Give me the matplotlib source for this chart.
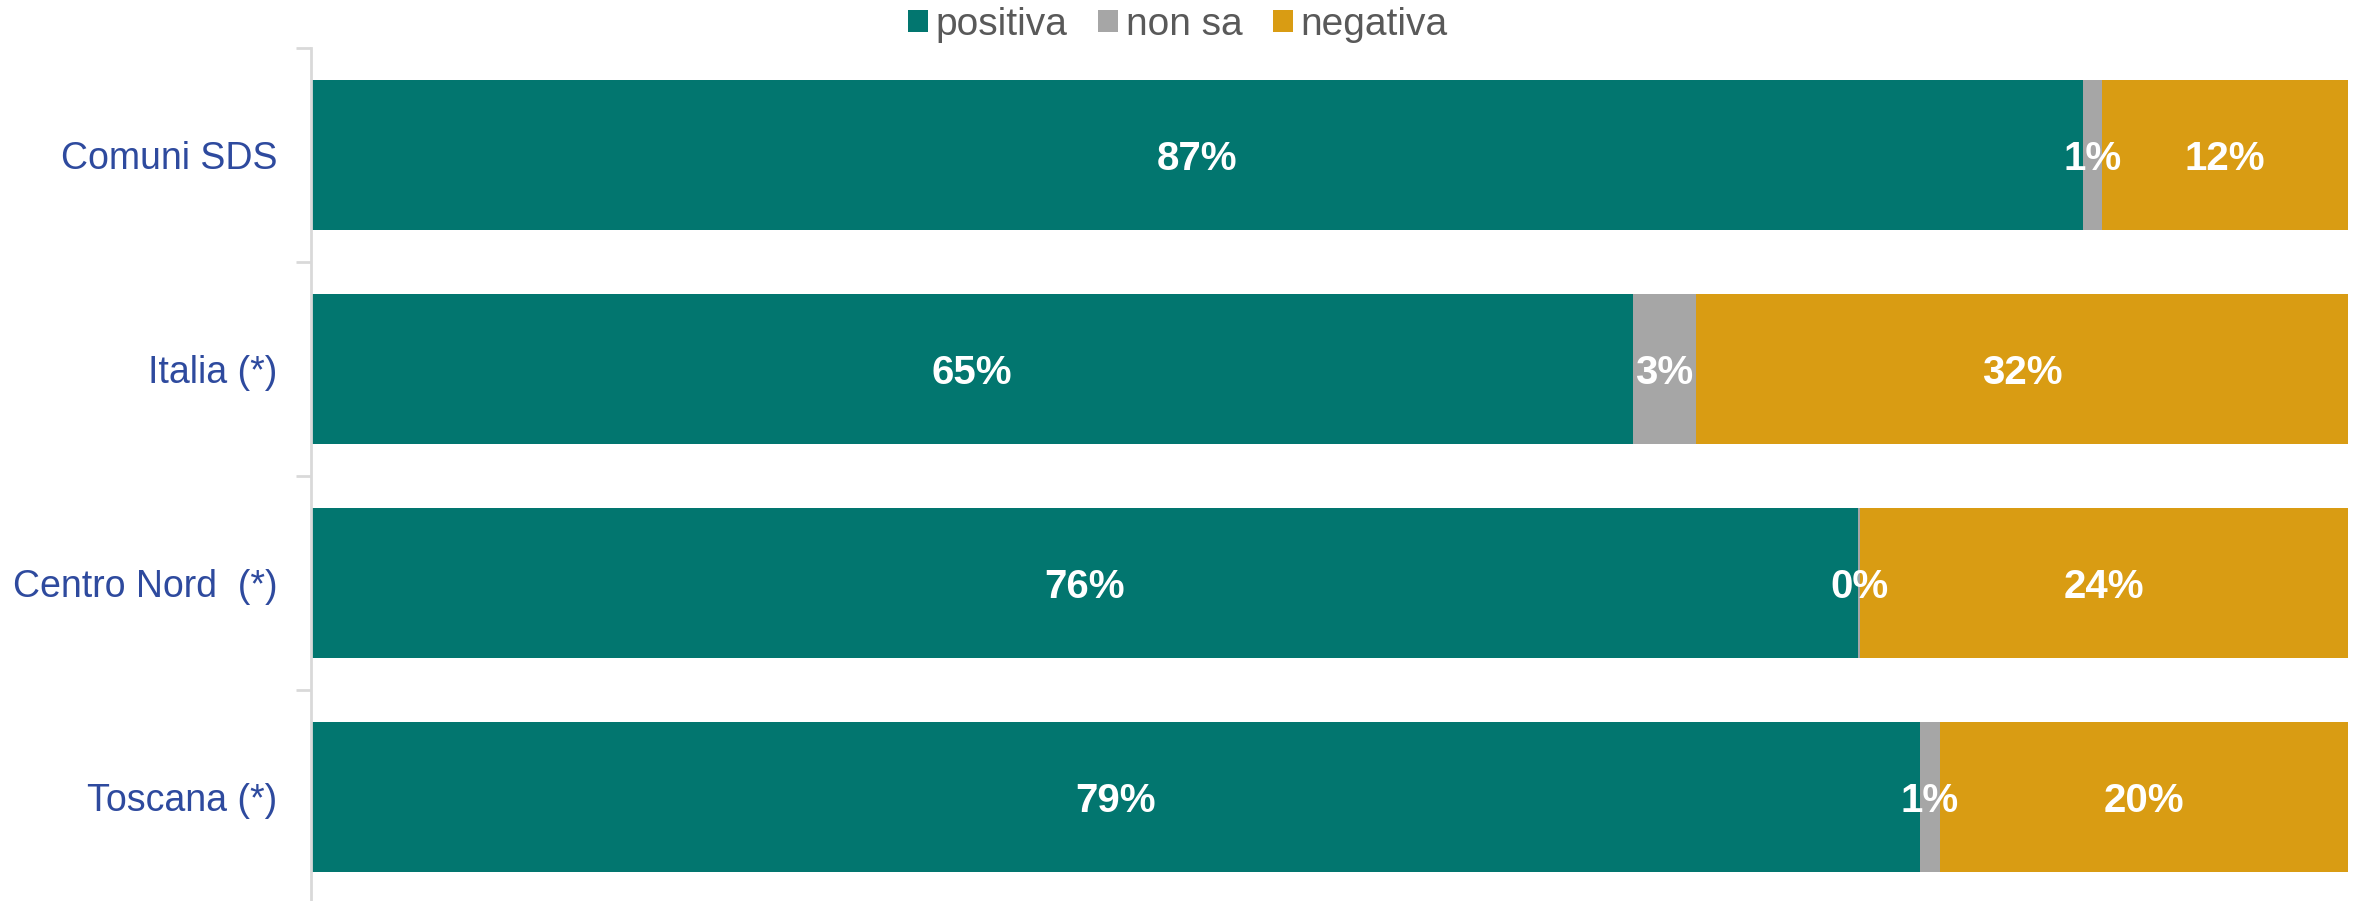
import matplotlib as mpl
import matplotlib.pyplot as plt
import numpy as np

mpl.use("Agg")
plt.rcParams["font.family"] = ["Liberation Sans", "DejaVu Sans"]

categories = ["Comuni SDS", "Italia (*)", "Centro Nord  (*)", "Toscana (*)"]
positiva = [86.97, 64.9, 75.95, 79.0]
non_sa = [0.97, 3.1, 0.1, 0.95]
negativa = [12.06, 32.0, 23.95, 20.05]
labels_pos = ["87%", "65%", "76%", "79%"]
labels_ns = ["1%", "3%", "0%", "1%"]
labels_neg = ["12%", "32%", "24%", "20%"]

series = [
    ("positiva", positiva, labels_pos, "#02766F"),
    ("non sa", non_sa, labels_ns, "#A6A6A6"),
    ("negativa", negativa, labels_neg, "#D99C13"),
]

fig = plt.figure(figsize=(23.56, 9.01), dpi=100)
ax = fig.add_axes([311 / 2356, -3 / 901, 2037 / 2356, 856 / 901])

y = np.arange(len(categories))
left = np.zeros(len(categories))
for name, vals, labs, color in series:
    vals = np.array(vals)
    ax.barh(y, vals, left=left, height=0.70, color=color, label=name)
    for yi, l, v, t in zip(y, left, vals, labs):
        ax.text(l + v / 2, yi + 0.02, t, ha="center", va="center", color="white",
                fontsize=29, fontweight="bold")
    left += vals

ax.set_xlim(0, 100)
ax.set_ylim(len(categories) - 0.5, -0.5)
ax.set_xticks([])
ax.set_yticks(y)
ax.set_yticklabels(categories, fontsize=27, color="#2E4A9E")
ax.set_yticks(np.arange(-0.5, len(categories)), minor=True)
ax.tick_params(axis="y", which="major", length=0, pad=24)
ax.tick_params(axis="y", which="minor", length=11, width=2, color="#D9D9D9")
for s in ["top", "right", "bottom"]:
    ax.spines[s].set_visible(False)
ax.spines["left"].set_color("#D9D9D9")
ax.spines["left"].set_linewidth(2)

fig.legend(loc="center", bbox_to_anchor=(0.5, 1 - 25 / 901), ncol=3,
           frameon=False, fontsize=28, labelcolor="#595959",
           handlelength=0.5, handleheight=0.5, handletextpad=0.2,
           columnspacing=0.8)

fig.savefig("out.png", dpi=100)
